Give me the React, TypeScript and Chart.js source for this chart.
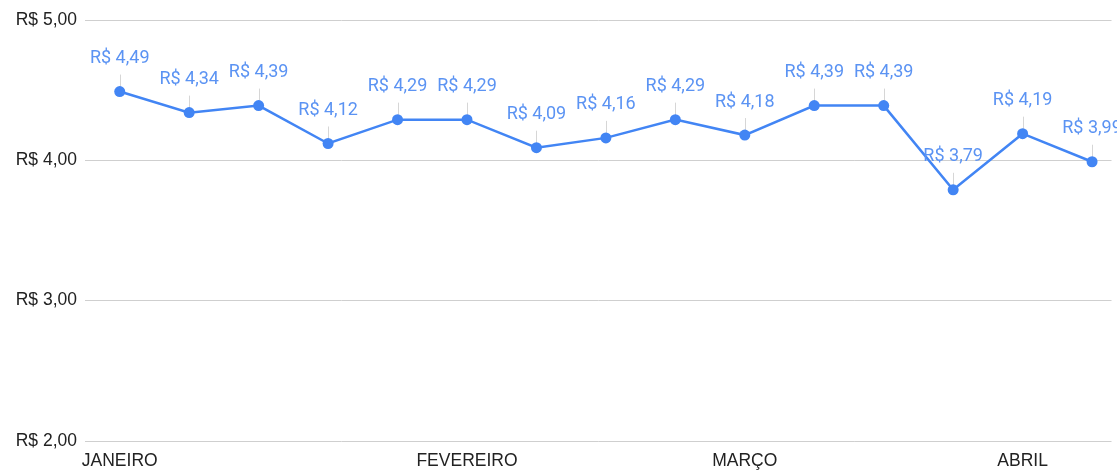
import React, { useEffect, useRef } from "react";
import { Chart, registerables } from "chart.js";

Chart.register(...registerables);

const pointIndex: number[] = [0, 1, 2, 3, 4, 5, 6, 7, 8, 9, 10, 11, 12, 13, 14];
const prices: number[] = [4.49, 4.34, 4.39, 4.12, 4.29, 4.29, 4.09, 4.16, 4.29, 4.18, 4.39, 4.39, 3.79, 4.19, 3.99];
const monthTickPositions: number[] = [0, 5, 9, 13];
const monthLabels: string[] = ["JANEIRO", "FEVEREIRO", "MARÇO", "ABRIL"];
const yTicks: number[] = [2, 3, 4, 5];

const fmt = (v: number) => "R$ " + v.toFixed(2).replace(".", ",");

const BLUE = "#4285F4";
const LABEL_BLUE = "#5b93f3";

const labelPlugin = {
  id: "pointLabels",
  beforeDatasetsDraw(chart: any) {
    const ctx = chart.ctx;
    const meta = chart.getDatasetMeta(0);
    ctx.save();
    ctx.strokeStyle = "#d6d6d6";
    ctx.lineWidth = 1;
    meta.data.forEach((pt: any) => {
      ctx.beginPath();
      ctx.moveTo(Math.round(pt.x) + 0.5, pt.y);
      ctx.lineTo(Math.round(pt.x) + 0.5, pt.y - 17);
      ctx.stroke();
    });
    ctx.restore();
  },
  afterDatasetsDraw(chart: any) {
    const ctx = chart.ctx;
    const meta = chart.getDatasetMeta(0);
    ctx.save();
    ctx.fillStyle = LABEL_BLUE;
    ctx.font = "18px Roboto";
    ctx.textAlign = "center";
    ctx.textBaseline = "middle";
    meta.data.forEach((pt: any, i: number) => {
      ctx.fillText(fmt(prices[i]), pt.x, pt.y - 33);
    });
    ctx.restore();
  },
};

export default function App() {
  const ref = useRef<HTMLCanvasElement | null>(null);

  useEffect(() => {
    if (!ref.current) return;
    const chart = new Chart(ref.current, {
      type: "line",
      data: {
        datasets: [
          {
            data: pointIndex.map((x, i) => ({ x, y: prices[i] })),
            borderColor: BLUE,
            backgroundColor: BLUE,
            borderWidth: 2.5,
            pointRadius: 5.5,
            pointHoverRadius: 5.5,
            pointBackgroundColor: BLUE,
            pointBorderWidth: 0,
            tension: 0,
            clip: false as any,
          },
        ],
      },
      options: {
        animation: false,
        responsive: true,
        maintainAspectRatio: false,
        layout: { padding: { top: 20, left: 0, right: 0, bottom: 0 } },
        plugins: { legend: { display: false }, tooltip: { enabled: false } },
        scales: {
          x: {
            type: "linear",
            min: -0.5,
            max: 14.28,
            grid: { display: false },
            border: { display: false },
            afterBuildTicks: (scale: any) => {
              scale.ticks = monthTickPositions.map((v) => ({ value: v }));
            },
            afterFit: (scale: any) => {
              scale.height = 29;
            },
            ticks: {
              autoSkip: false,
              maxRotation: 0,
              padding: 2,
              color: "#222",
              font: { family: "'Liberation Sans', Arial", size: 17.5 },
              callback: (v: any) => {
                const k = monthTickPositions.indexOf(Number(v));
                return k >= 0 ? monthLabels[k] : "";
              },
            },
          },
          y: {
            min: 2,
            max: 5,
            grid: { color: "#cfcfcf", lineWidth: 1, drawTicks: false },
            border: { display: false },
            afterBuildTicks: (scale: any) => {
              scale.ticks = yTicks.map((v) => ({ value: v }));
            },
            afterFit: (scale: any) => {
              scale.width = 85;
            },
            ticks: {
              padding: 8,
              color: "#222",
              font: { family: "'Liberation Sans', Arial", size: 17.5 },
              callback: (v: any) => fmt(Number(v)),
            },
          },
        },
      },
      plugins: [labelPlugin],
    });
    return () => chart.destroy();
  }, []);

  return (
    <div style={{ position: "absolute", left: 0, top: 0, width: 1117, height: 470, background: "#fff" }}>
      <canvas ref={ref} />
    </div>
  );
}
